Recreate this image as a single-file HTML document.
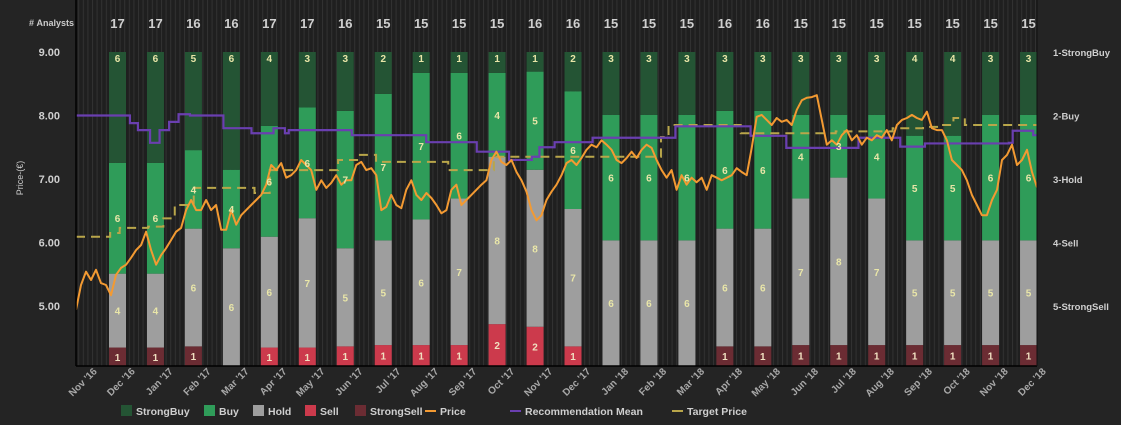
<!DOCTYPE html>
<html><head><meta charset="utf-8">
<style>
html,body{margin:0;padding:0;background:#242424;}
svg{display:block;font-family:"Liberation Sans",sans-serif;font-weight:bold;}
</style></head>
<body>
<svg id="chart" width="1121" height="425" viewBox="0 0 1121 425" xmlns="http://www.w3.org/2000/svg">
<defs>
<pattern id="stripes" width="4.6" height="10" patternUnits="userSpaceOnUse">
<rect width="4.6" height="10" fill="#1f1f1f"/>
<rect x="0" width="1" height="10" fill="#323232"/>
</pattern>
<clipPath id="plotclip"><rect x="76" y="0" width="961" height="366"/></clipPath>
</defs>
<rect x="0" y="0" width="1121" height="425" fill="#242424"/>
<rect x="76" y="0" width="961" height="366" fill="url(#stripes)"/>
<g id="bars"></g>
<g id="lines" clip-path="url(#plotclip)"></g>
<g id="labels"></g>
<line x1="76" y1="0" x2="76" y2="366" stroke="#000" stroke-width="1.5"/>
<line x1="76" y1="366" x2="1037" y2="366" stroke="#000" stroke-width="1.5"/>
<line x1="1037" y1="0" x2="1037" y2="366" stroke="#111" stroke-width="1"/>
<text x="74" y="26" fill="#ccc" font-size="9" text-anchor="end">#&#160;Analysts</text>
<text transform="translate(23,178) rotate(-90)" fill="#ccc" font-size="9" text-anchor="middle" font-weight="normal">Price-(€)</text>
<g id="legend"></g>
</svg>
<script>
const months = ["Nov '16","Dec '16","Jan '17","Feb '17","Mar '17","Apr '17","May '17","Jun '17","Jul '17","Aug '17","Sep '17","Oct '17","Nov '17","Dec '17","Jan '18","Feb '18","Mar '18","Apr '18","May '18","Jun '18","Jul '18","Aug '18","Sep '18","Oct '18","Nov '18","Dec '18"];
const strongBuy = [6,6,5,6,4,3,3,2,1,1,1,1,2,3,3,3,3,3,3,3,3,4,4,3,3];
const buy       = [6,6,4,4,6,6,7,7,7,6,4,5,6,6,6,6,6,6,4,3,4,5,5,6,6];
const hold      = [4,4,6,6,6,7,5,5,6,7,8,8,7,6,6,6,6,6,7,8,7,5,5,5,5];
const sell      = [0,0,0,0,1,1,1,1,1,1,2,2,1,0,0,0,0,0,0,0,0,0,0,0,0];
const strongSell= [1,1,1,0,0,0,0,0,0,0,0,0,0,0,0,0,1,1,1,1,1,1,1,1,1];
const priceTicks = ["9.00","8.00","7.00","6.00","5.00"];
const priceTickValues = [9,8,7,6,5];
const recLabels = ["1-StrongBuy","2-Buy","3-Hold","4-Sell","5-StrongSell"];
const price = [4.94,5.33,5.54,5.41,5.57,5.36,5.33,5.17,5.49,5.60,5.65,5.76,5.88,5.96,6.17,5.88,5.65,5.80,5.91,6.04,6.17,6.23,6.51,6.67,6.51,6.51,6.67,6.51,6.59,6.20,6.20,6.51,6.28,6.43,6.51,6.59,6.67,6.75,6.91,7.22,7.14,7.25,7.02,7.06,7.14,7.30,7.22,7.14,6.83,6.98,6.86,6.94,7.06,6.91,6.98,6.98,7.22,7.27,7.14,7.17,7.06,6.51,6.56,6.75,6.59,6.54,6.83,6.98,6.75,6.67,6.78,6.70,6.59,6.46,6.51,6.83,6.91,6.59,6.67,6.75,6.83,6.91,6.98,7.30,7.43,7.27,7.22,7.30,7.11,6.98,6.80,6.51,6.35,6.43,6.67,6.80,6.91,7.06,7.25,7.30,7.22,7.33,7.46,7.54,7.50,7.61,7.54,7.46,7.30,7.25,7.33,7.43,7.33,7.46,7.54,7.49,7.30,7.14,7.02,7.14,6.83,7.06,6.91,7.02,6.95,7.02,6.83,7.06,7.02,6.98,7.02,7.06,7.17,7.11,7.06,7.49,7.98,8.01,7.93,7.85,7.96,7.90,7.93,7.85,8.09,8.24,8.28,8.29,8.32,7.93,7.54,7.61,7.54,7.69,7.77,7.61,7.69,7.54,7.65,7.61,7.69,7.65,7.77,7.61,7.85,7.93,7.96,8.01,7.96,7.93,8.06,7.80,7.77,7.77,7.61,7.30,7.22,7.14,6.98,6.75,6.59,6.43,6.43,6.67,6.83,7.30,7.38,7.54,7.22,7.30,7.46,7.11,6.87];
// step series: [month offset from start, value]
const recMeanT = [0,1.42,1.63,1.95,2.2,2.3,2.45,2.7,3.0,3.2,3.88,4.62,5.2,5.25,5.5,5.6,7.26,9.22,10.55,11.4,12.0,12.2,12.6,13.6,15.78,17.76,17.9,18.7,19.05,20.6,21.7,22.35,22.45,24.56,24.66,25.2];
const recMeanV = [2.00,2.12,2.23,2.43,2.23,2.23,2.10,1.98,2.00,2.00,2.20,2.28,2.20,2.20,2.28,2.23,2.31,2.42,2.57,2.70,2.65,2.50,2.42,2.35,2.17,2.32,2.32,2.51,2.51,2.35,2.49,2.44,2.44,2.43,2.24,2.31];
const targetT = [0,0.9,1.15,1.9,2.3,2.6,3.1,4.7,5.1,6.2,6.9,7.4,7.9,9.8,9.9,11.0,13.0,14.0,15.4,15.6,17.5,18.3,20.0,21.5,22.3,22.8,23.1,23.4];
const targetV = [6.09,6.15,6.23,6.25,6.38,6.59,6.86,6.78,7.14,7.14,7.30,7.38,7.27,7.14,7.14,7.35,7.35,7.35,7.66,7.85,7.72,7.72,7.75,7.80,7.82,7.85,7.96,7.85];

const SVGNS="http://www.w3.org/2000/svg";
const plotL=76, plotR=1037, plotTop=52, plotBot=366, pxPerUnit=63.5;
const barX0=117.5, barStep=37.96, barW=17;
function yPrice(v){return plotTop+(9-v)*pxPerUnit;}
function yRec(v){return plotTop+(v-1)*pxPerUnit;}
function xBar(i){return barX0+i*barStep;}
function xMonth(t){return Math.min(plotR, plotL+t*(plotR-plotL)/25.3);}
function mk(tag,attrs,parent){const e=document.createElementNS(SVGNS,tag);for(const k in attrs)e.setAttribute(k,attrs[k]);parent.appendChild(e);return e;}

const barsG=document.getElementById('bars'), labelsG=document.getElementById('labels'), linesG=document.getElementById('lines');
const segDefs=[[strongSell,'#6b2c33','strongsell'],[sell,'#cc3a4c','sell'],[hold,'#9e9e9e','hold'],[buy,'#2f9c59','buy'],[strongBuy,'#245434','strongbuy']];
for(let i=0;i<strongBuy.length;i++){
  const total=strongBuy[i]+buy[i]+hold[i]+sell[i]+strongSell[i];
  const unit=(plotBot-plotTop)/total;
  let y=plotBot;
  const t=mk('text',{x:xBar(i),y:28,fill:'#cfcfcf','font-size':13,'text-anchor':'middle'},labelsG);
  
  
  t.textContent=total;
  for(const [arr,col,nm] of segDefs){
    const v=arr[i]; if(!v) continue;
    const h=v*unit; y-=h;
    const r=mk('rect',{x:xBar(i)-barW/2,y:y,width:barW,height:h,fill:col},barsG);
    
    
    let ly = y+h/2+4;
    if(nm==='strongbuy') ly=plotTop+10;
    const lt=mk('text',{x:xBar(i),y:ly,fill:(nm==='sell'||nm==='strongsell')?'#f0e0c0':'#e9e6a8','font-size':10,'text-anchor':'middle'},labelsG);
    
    
    lt.textContent=v;
  }
}
priceTicks.forEach((s,k)=>{
  const t=mk('text',{x:60,y:yPrice(priceTickValues[k])+4,fill:'#cfcfcf','font-size':11,'text-anchor':'end'},labelsG);
  
  
  t.textContent=s;
});
recLabels.forEach((s,k)=>{
  const t=mk('text',{x:1053,y:yRec(k+1)+4,fill:'#cfcfcf','font-size':9.5},labelsG);
  
  
  t.textContent=s;
});
months.forEach((m,k)=>{
  const x=xBar(k)-barStep+18, y=372;
  const t=mk('text',{x:x,y:y,fill:'#a8a8a8','font-size':10,'text-anchor':'end',transform:`rotate(-45 ${x} ${y})`},labelsG);
  
  
  t.textContent=m;
});
function stepPath(T,V,yf){let d='';for(let k=0;k<T.length;k++){const x=xMonth(T[k]),y=yf(V[k]);if(k===0)d+=`M${x},${y}`;else d+=`L${x},${yf(V[k-1])}L${x},${y}`;}d+=`L${plotR},${yf(V[V.length-1])}`;return d;}
const tp=mk('path',{d:stepPath(targetT,targetV,yPrice),fill:'none',stroke:'#b9a64a','stroke-width':2,'stroke-dasharray':'9,6'},linesG);


const rp=mk('path',{d:stepPath(recMeanT,recMeanV,yRec),fill:'none',stroke:'#6a3fb0','stroke-width':2.2},linesG);


let pd='';
price.forEach((v,k)=>{const x=plotL+k*(plotR-plotL)/(price.length-1);pd+=(k?'L':'M')+x.toFixed(1)+','+yPrice(v).toFixed(1);});
const pp=mk('path',{d:pd,fill:'none',stroke:'#f39a32','stroke-width':2,'stroke-linejoin':'round'},linesG);


const lg=document.getElementById('legend');
const legendItems=[['StrongBuy','#245434','sq',121],['Buy','#2f9c59','sq',204],['Hold','#9e9e9e','sq',253],['Sell','#cc3a4c','sq',305],['StrongSell','#6b2c33','sq',355],['Price','#f39a32','ln',425],['Recommendation Mean','#6a3fb0','ln',510],['Target Price','#b9a64a','ln',672]];
legendItems.forEach(([name,col,kind,x])=>{
  const g=mk('g',{},lg);
  
  
  if(kind==='sq') mk('rect',{x:x,y:405,width:11,height:11,fill:col},g);
  else mk('rect',{x:x,y:410,width:11,height:2,fill:col},g);
  const t=mk('text',{x:x+15,y:415,fill:'#cfcfcf','font-size':10.5},g);
  t.textContent=name;
});
</script>
</body></html>
